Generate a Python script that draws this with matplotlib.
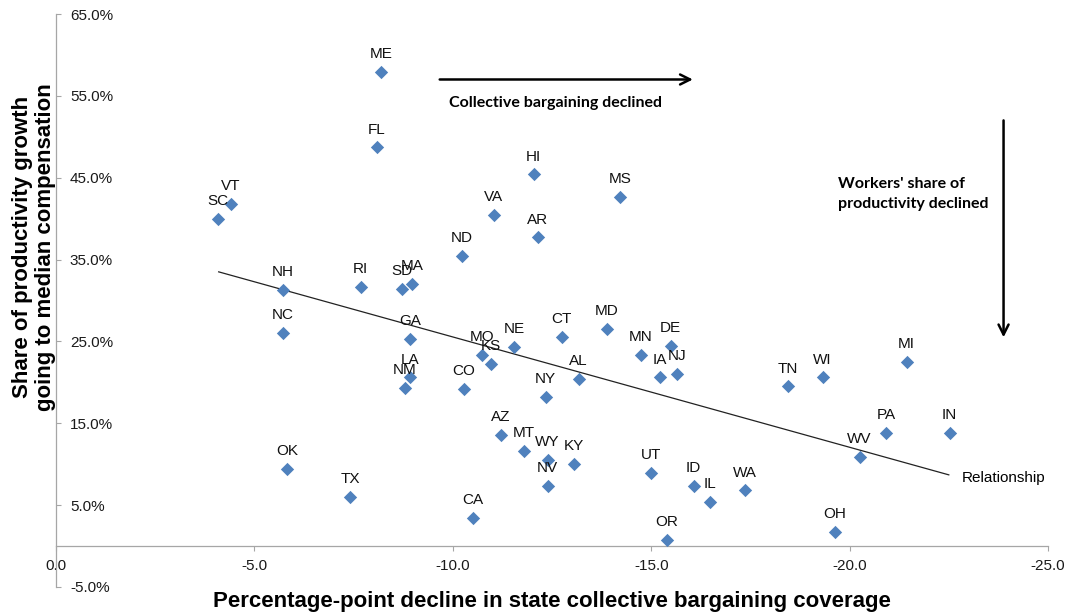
import numpy as np
import matplotlib.pyplot as plt

# State data: decline in collective bargaining coverage (pp) vs
# share of productivity growth going to median compensation (%)
states = ['ME', 'FL', 'SC', 'VT', 'HI', 'MS', 'VA', 'AR', 'ND', 'NH',
          'RI', 'SD', 'MA', 'NC', 'GA', 'MO', 'KS', 'NE', 'CT', 'MD',
          'MN', 'DE', 'IA', 'NJ', 'AL', 'LA', 'NM', 'CO', 'NY', 'AZ',
          'MT', 'WY', 'NV', 'KY', 'TX', 'CA', 'UT', 'OR', 'ID', 'IL',
          'WA', 'OH', 'WV', 'PA', 'IN', 'TN', 'WI', 'MI', 'OK']
decline = [-8.19, -8.09, -4.08, -4.41, -12.04, -14.21, -11.03, -12.14, -10.23, -5.72,
           -7.68, -8.72, -8.97, -5.72, -8.92, -10.73, -10.96, -11.54, -12.75, -13.88,
           -14.74, -15.49, -15.21, -15.64, -13.17, -8.92, -8.79, -10.28, -12.34, -11.21,
           -11.79, -12.39, -12.39, -13.05, -7.41, -10.50, -14.99, -15.39, -16.07, -16.47,
           -17.36, -19.62, -20.25, -20.93, -22.52, -18.44, -19.32, -21.44, -5.82]
share = [57.9, 48.7, 40.0, 41.8, 45.4, 42.6, 40.5, 37.7, 35.4, 31.3,
         31.7, 31.4, 32.0, 26.0, 25.3, 23.4, 22.3, 24.3, 25.5, 26.5,
         23.3, 24.4, 20.6, 21.0, 20.4, 20.6, 19.3, 19.2, 18.2, 13.6,
         11.6, 10.5, 7.3, 10.0, 6.0, 3.4, 8.9, 0.7, 7.3, 5.4,
         6.8, 1.7, 10.9, 13.8, 13.8, 19.5, 20.6, 22.5, 9.4]

# trend line ("Relationship") endpoints
trend_x = [-4.1, -22.5]
trend_y = [33.5, 8.7]

x_ticks = [0, -5, -10, -15, -20, -25]
y_ticks = [-5, 5, 15, 25, 35, 45, 55, 65]

plt.rcParams['font.family'] = ['Liberation Sans', 'DejaVu Sans']

fig = plt.figure(figsize=(10.68, 6.16), dpi=100)
ax = fig.add_axes([0.05243, 0.04708, 0.92884, 0.93019])

ax.scatter(decline, share, marker='D', s=46, color='#4F81BD', zorder=3, linewidths=0)
for name, xi, yi in zip(states, decline, share):
    ax.annotate(name, (xi, yi), xytext=(0, 10), textcoords='offset points',
                ha='center', va='baseline', fontsize=11, color='#111111')

ax.plot(trend_x, trend_y, color='#222222', lw=0.9, zorder=2)
ax.text(-22.82, 8.3, 'Relationship', fontsize=11, va='center', ha='left')

ax.set_xlim(0, -25)
ax.set_ylim(-5, 65)
ax.set_xticks(x_ticks)
ax.set_xticklabels(['%.1f' % v for v in x_ticks])
ax.set_yticks(y_ticks)
ax.set_yticklabels(['%.1f%%' % v for v in y_ticks])

for side in ['top', 'right']:
    ax.spines[side].set_visible(False)
ax.spines['bottom'].set_position(('data', 0))
for side in ['left', 'bottom']:
    ax.spines[side].set_color('#A6A6A6')
    ax.spines[side].set_linewidth(0.9)

ax.tick_params(axis='x', direction='out', length=3.5, color='#A6A6A6',
               labelsize=11, pad=6, labelcolor='#1a1a1a')
ax.tick_params(axis='y', direction='in', length=3.5, color='#A6A6A6',
               labelsize=11, pad=-10, labelcolor='#1a1a1a')
plt.setp(ax.get_yticklabels(), ha='left')

# direction arrows and notes
ax.annotate('', xy=(-16.05, 57.0), xytext=(-9.67, 57.0),
            arrowprops=dict(arrowstyle='->', lw=1.8, color='black',
                            mutation_scale=18, shrinkA=0, shrinkB=0))
ax.text(-9.9, 54.1, 'Collective bargaining declined', family='Lato',
        fontweight='bold', fontsize=11.5, va='center', ha='left')
ax.annotate('', xy=(-23.88, 25.5), xytext=(-23.88, 52.0),
            arrowprops=dict(arrowstyle='->', lw=1.8, color='black',
                            mutation_scale=18, shrinkA=0, shrinkB=0))
ax.text(-19.7, 43.0, "Workers' share of\nproductivity declined", family='Lato',
        fontweight='bold', fontsize=11.5, va='center', ha='left', linespacing=1.5)

fig.text(0.5169, 1 - 602 / 616, 'Percentage-point decline in state collective bargaining coverage',
         ha='center', va='center', fontsize=16, fontweight='bold')
fig.text(0.0318, 1 - 247 / 616, 'Share of productivity growth\ngoing to median compensation',
         ha='center', va='center', rotation=90, fontsize=16, fontweight='bold',
         linespacing=1.15)

fig.savefig('out.png', dpi=100)
